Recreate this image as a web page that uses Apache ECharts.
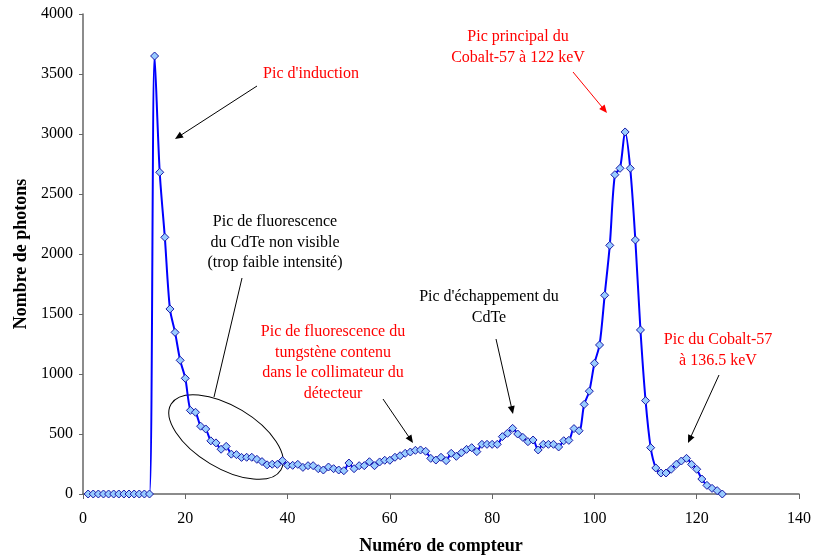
<!DOCTYPE html>
<html>
<head>
<meta charset="utf-8">
<script src="https://cdn.jsdelivr.net/npm/echarts@6/dist/echarts.min.js"></script>
<style>
  html, body { margin: 0; padding: 0; background: #fff; }
  #chart { width: 813px; height: 557px; }
</style>
</head>
<body>
<div id="chart"></div>
<script>
// numéro de compteur (canal)
const channels = [
  1, 2, 3, 4, 5, 6, 7, 8, 9, 10, 11, 12, 13, 14, 15, 16, 17, 18, 19, 20,
  21, 22, 23, 24, 25, 26, 27, 28, 29, 30, 31, 32, 33, 34, 35, 36, 37, 38, 39, 40,
  41, 42, 43, 44, 45, 46, 47, 48, 49, 50, 51, 52, 53, 54, 55, 56, 57, 58, 59, 60,
  61, 62, 63, 64, 65, 66, 67, 68, 69, 70, 71, 72, 73, 74, 75, 76, 77, 78, 79, 80,
  81, 82, 83, 84, 85, 86, 87, 88, 89, 90, 91, 92, 93, 94, 95, 96, 97, 98, 99, 100,
  101, 102, 103, 104, 105, 106, 107, 108, 109, 110, 111, 112, 113, 114, 115, 116, 117, 118, 119, 120,
  121, 122, 123, 124, 125
]
// nombre de photons
const photons = [
  0, 0, 0, 0, 0, 0, 0, 0, 0, 0, 0, 0, 0, 3650, 2681, 2139, 1542, 1347, 1114, 964,
  697, 681, 565, 542, 443, 426, 373, 397, 332, 328, 305, 306, 306, 289, 270, 243, 248, 247, 278, 239,
  239, 247, 222, 236, 236, 211, 200, 225, 211, 200, 194, 258, 211, 236, 236, 269, 236, 267, 281, 281,
  306, 319, 339, 350, 364, 367, 356, 297, 283, 306, 278, 339, 314, 344, 372, 386, 353, 414, 414, 414,
  414, 478, 506, 547, 500, 472, 436, 450, 367, 414, 414, 414, 392, 444, 447, 545, 527, 747, 857, 1089,
  1242, 1656, 2072, 2661, 2714, 3017, 2714, 2117, 1367, 778, 386, 217, 175, 175, 206, 247, 275, 297, 247, 206,
  125, 72, 47, 28, 0
]

const serif = '"Liberation Serif", "Times New Roman", serif'

// annotations (pixel layout)
const notes = [
  { lines: ["Pic d'induction"], x: 311, y: 74, color: '#ff0000' },
  { lines: ['Pic principal du', 'Cobalt-57 à 122 keV'], x: 518, y: 37, color: '#ff0000' },
  { lines: ['Pic de fluorescence', 'du CdTe non visible', '(trop faible intensité)'], x: 275, y: 222, color: '#000' },
  { lines: ['Pic de fluorescence du', 'tungstène contenu', 'dans le collimateur du', 'détecteur'], x: 333, y: 332, color: '#ff0000' },
  { lines: ["Pic d'échappement du", 'CdTe'], x: 489, y: 297, color: '#000' },
  { lines: ['Pic du Cobalt-57', 'à 136.5 keV'], x: 718, y: 340, color: '#ff0000' }
]
const arrows = [
  { from: [257, 86], to: [175, 139], color: '#000', head: true },
  { from: [573, 72], to: [607, 113], color: '#ff0000', head: true },
  { from: [242, 278], to: [214, 397], color: '#000', head: false },
  { from: [383, 399], to: [413, 443], color: '#000', head: true },
  { from: [496, 339], to: [513, 414], color: '#000', head: true },
  { from: [719, 375], to: [688, 443], color: '#000', head: true }
]

function buildGraphics() {
  const els = []
  notes.forEach(n => {
    n.lines.forEach((t, i) => {
      els.push({
        type: 'text', silent: true,
        style: {
          text: t, x: n.x, y: n.y + i * 20.5, fill: n.color,
          font: '16px ' + serif, align: 'center', verticalAlign: 'middle'
        }
      })
    })
  })
  arrows.forEach(a => {
    const [x1, y1] = a.from, [x2, y2] = a.to
    const dx = x2 - x1, dy = y2 - y1, len = Math.hypot(dx, dy)
    const ux = dx / len, uy = dy / len
    const hl = a.head ? 8 : 0
    els.push({
      type: 'line', silent: true,
      shape: { x1, y1, x2: x2 - ux * hl * 0.8, y2: y2 - uy * hl * 0.8 },
      style: { stroke: a.color, lineWidth: 1 }
    })
    if (a.head) {
      const bx = x2 - ux * hl, by = y2 - uy * hl
      els.push({
        type: 'polygon', silent: true,
        shape: { points: [[x2, y2], [bx - uy * 3.5, by + ux * 3.5], [bx + uy * 3.5, by - ux * 3.5]] },
        style: { fill: a.color }
      })
    }
  })
  // ellipse around the CdTe region
  els.push({
    type: 'ellipse', silent: true,
    x: 226, y: 437, rotation: -31 * Math.PI / 180,
    shape: { cx: 0, cy: 0, rx: 64, ry: 31 },
    style: { fill: 'none', stroke: '#000', lineWidth: 1 }
  })
  return els
}

const chart = echarts.init(document.getElementById('chart'))
chart.setOption({
  backgroundColor: '#fff',
  animation: false,
  grid: { left: 83, right: 14, top: 14, bottom: 63, outerBoundsMode: 'none' },
  xAxis: {
    type: 'value', min: 0, max: 140, interval: 20,
    name: 'Numéro de compteur', nameLocation: 'middle', nameGap: 43,
    nameTextStyle: { fontFamily: serif, fontSize: 18, fontWeight: 'bold', color: '#000' },
    axisLine: { show: true, onZero: false, lineStyle: { color: '#666', width: 1.5 } },
    axisTick: { show: true, inside: false, length: 5, lineStyle: { color: '#666' } },
    axisLabel: { fontFamily: serif, fontSize: 16, color: '#000', margin: 17 },
    splitLine: { show: false }
  },
  yAxis: {
    type: 'value', min: 0, max: 4000, interval: 500,
    name: 'Nombre de photons', nameLocation: 'middle', nameGap: 48, nameRotate: 90,
    nameTextStyle: { fontFamily: serif, fontSize: 18, fontWeight: 'bold', color: '#000' },
    axisLine: { show: true, lineStyle: { color: '#666', width: 1.5 } },
    axisTick: { show: true, inside: false, length: 4, lineStyle: { color: '#666' } },
    axisLabel: { fontFamily: serif, fontSize: 16, color: '#000', margin: 10, formatter: v => String(v) },
    splitLine: { show: false }
  },
  series: [{
    type: 'line',
    data: channels.map((c, i) => [c, photons[i]]),
    smooth: 0.3,
    symbol: 'diamond', symbolSize: 8,
    lineStyle: { color: '#0000ff', width: 2 },
    itemStyle: { color: '#99ccff', borderColor: '#1a1aa8', borderWidth: 1 }
  }],
  graphic: buildGraphics()
})
</script>
</body>
</html>
